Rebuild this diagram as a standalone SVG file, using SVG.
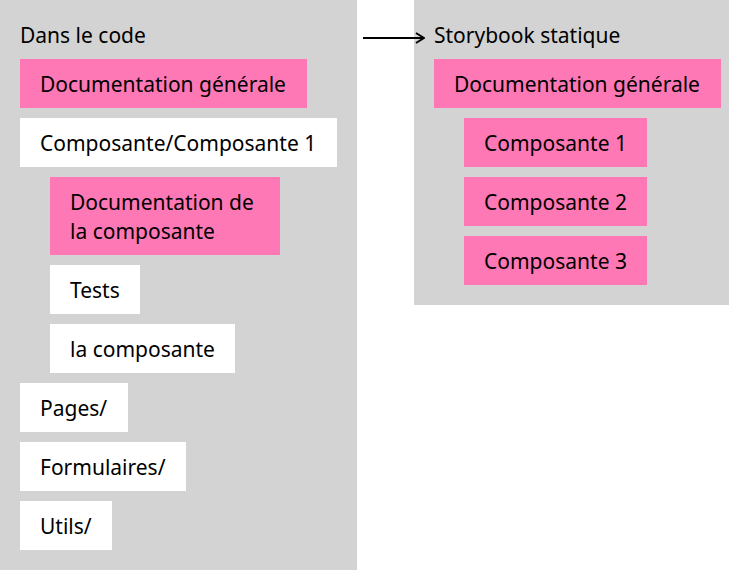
<svg xmlns="http://www.w3.org/2000/svg" width="729" height="570" viewBox="0 0 729 570">
<defs>
<style>
.panel{fill:#d3d3d3}
.pink{fill:#ff78b6}
.white{fill:#ffffff}
text{font-family:"Noto Sans","Open Sans","DejaVu Sans",sans-serif;font-size:21px;fill:#000}
.conn{stroke:#000;stroke-width:2;fill:none}
</style>
<marker id="arr" viewBox="0 0 10 12" refX="9" refY="6" markerWidth="10" markerHeight="12" markerUnits="userSpaceOnUse" orient="auto">
<path d="M1,1 L9,6 L1,11" fill="none" stroke="#000" stroke-width="2"/>
</marker>
</defs>
<rect width="729" height="570" fill="#ffffff"/>
<g id="panel-code">
<rect class="panel" x="0" y="0" width="357" height="570"/>
<text x="20" y="43">Dans le code</text>
</g>
<g id="panel-storybook">
<rect class="panel" x="414" y="0" width="315" height="305"/>
<text x="434" y="43">Storybook statique</text>
</g>
<g id="connectors">
<line class="conn" x1="363" y1="38" x2="424" y2="38" marker-end="url(#arr)"/>
</g>
<g id="n-doc-gen-left"><rect class="pink" x="20" y="59" width="287" height="49"/><text x="40" y="92">Documentation générale</text></g>
<g id="n-comp-folder"><rect class="white" x="20" y="118" width="317" height="49"/><text x="40" y="151">Composante/Composante 1</text></g>
<g id="n-doc-comp"><rect class="pink" x="50" y="177" width="230" height="78"/><text x="70" y="210">Documentation de</text><text x="70" y="239">la composante</text></g>
<g id="n-tests"><rect class="white" x="50" y="265" width="90" height="49"/><text x="70" y="298">Tests</text></g>
<g id="n-la-comp"><rect class="white" x="50" y="324" width="185" height="49"/><text x="70" y="357">la composante</text></g>
<g id="n-pages"><rect class="white" x="20" y="383" width="108" height="49"/><text x="40" y="416">Pages/</text></g>
<g id="n-forms"><rect class="white" x="20" y="442" width="166" height="49"/><text x="40" y="475">Formulaires/</text></g>
<g id="n-utils"><rect class="white" x="20" y="501" width="92" height="49"/><text x="40" y="534">Utils/</text></g>
<g id="n-doc-gen-right"><rect class="pink" x="434" y="59" width="287" height="49"/><text x="454" y="92">Documentation générale</text></g>
<g id="n-c1"><rect class="pink" x="464" y="118" width="183" height="49"/><text x="484" y="151">Composante 1</text></g>
<g id="n-c2"><rect class="pink" x="464" y="177" width="183" height="49"/><text x="484" y="210">Composante 2</text></g>
<g id="n-c3"><rect class="pink" x="464" y="236" width="183" height="49"/><text x="484" y="269">Composante 3</text></g>
</svg>
